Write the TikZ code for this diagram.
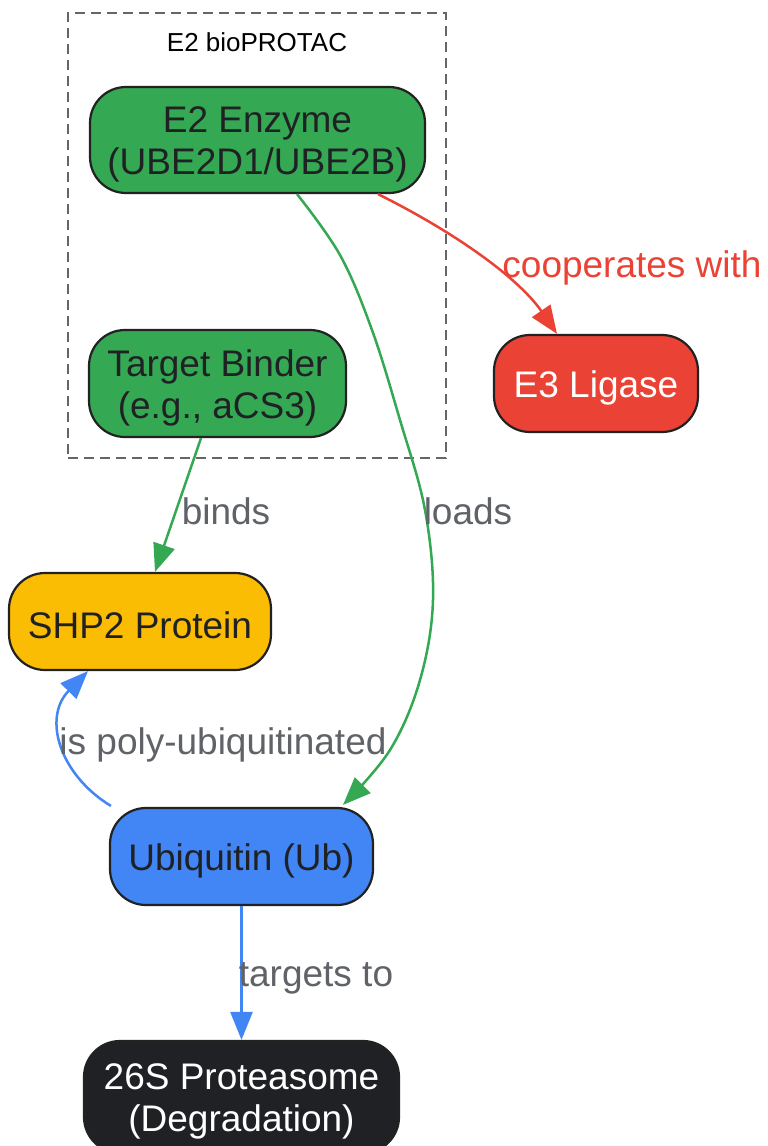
\documentclass[tikz,border=0pt]{standalone}
\usepackage{fontspec}
\setmainfont{Liberation Sans}
\usetikzlibrary{arrows.meta,calc}
\definecolor{ggreen}{HTML}{34A853}
\definecolor{gred}{HTML}{EA4335}
\definecolor{gyellow}{HTML}{FBBC04}
\definecolor{gblue}{HTML}{4285F4}
\definecolor{gdark}{HTML}{202124}
\definecolor{gborder}{HTML}{222222}
\definecolor{glabel}{HTML}{5F6368}
\definecolor{gcluster}{HTML}{666666}
\begin{document}
\begin{tikzpicture}[x=1pt,y=-1pt,
  box/.style={draw=gborder, line width=2.2pt, rounded corners=36pt, inner sep=0pt},
  boxtext/.style={align=center, inner sep=0pt, font=\fontsize{37}{42}\selectfont, yshift=-4pt},
  edge/.style={line width=2.5pt, -{Triangle[length=28pt,width=22pt]}},
  elabel/.style={text=glabel, font=\fontsize{37}{42}\selectfont, inner sep=0pt, yshift=-3pt},
  clusterbox/.style={draw=gcluster, line width=2.5pt, dash pattern=on 10pt off 6pt, inner sep=0pt}
]
\useasboundingbox (0,0) rectangle (768,1146);
\fill[white] (0,0) rectangle (768,1146);

% cluster
\node[clusterbox, minimum width=378pt, minimum height=445pt] (cl) at (257,235.5) {};
\node[font=\fontsize{26}{30}\selectfont, text=black, inner sep=0pt] (cllabel) at (257,42) {E2 bioPROTAC};

% nodes
\node[box, fill=ggreen, minimum width=335pt, minimum height=106pt,
  label={[boxtext, text=gdark]center:{E2 Enzyme\\(UBE2D1/UBE2B)}}] (e2) at (257.5,140) {};
\node[box, fill=ggreen, minimum width=257pt, minimum height=107pt,
  label={[boxtext, text=gdark]center:{Target Binder\\(e.g., aCS3)}}] (tb) at (217.5,383.5) {};
\node[box, fill=gred, minimum width=204pt, minimum height=97pt,
  label={[boxtext, text=white]center:{E3 Ligase}}] (e3) at (596,383.5) {};
\node[box, fill=gyellow, minimum width=262pt, minimum height=97pt,
  label={[boxtext, text=gdark]center:{SHP2 Protein}}] (shp) at (140,621.5) {};
\node[box, fill=gblue, minimum width=263pt, minimum height=97pt,
  label={[boxtext, text=gdark]center:{Ubiquitin (Ub)}}] (ub) at (241.5,856.5) {};
\node[box, fill=gdark, minimum width=315pt, minimum height=112pt,
  label={[boxtext, text=white]center:{26S Proteasome\\(Degradation)}}] (pr) at (241.5,1097) {};

% anchor points
\coordinate (e2r) at ($(e2.south)+(120.5,0)$);
\coordinate (e3t) at ($(e3.north)+(-39,0)$);
\coordinate (e2l) at ($(e2.south)+(39.5,0)$);
\coordinate (ubt) at ($(ub.north)+(101.5,-2)$);
\coordinate (tbs) at ($(tb.south)+(-16.5,0)$);
\coordinate (shpn) at ($(shp.north)+(15,0)$);
\coordinate (ubl) at ($(ub.north west)+(2,-1)$);
\coordinate (shps) at ($(shp.south)+(-52,0)$);

% edges
\draw[edge, gred] (e2r) .. controls (460,235) and (520,280) .. (e3t);
\draw[edge, ggreen] plot[smooth, tension=0.6] coordinates {(e2l) (340,255) (372,330) (400,420) (425,510) (433,600) (420,680) (390,750) (ubt)};
\draw[edge, ggreen] (tbs) -- (shpn);
\draw[edge, gblue] (ubl) .. controls (60,775) and (42,718) .. (shps);
\draw[edge, gblue] (ub.south) -- (pr.north);

% edge labels
\node[elabel, text=gred] (lcoop) at (632,265) {cooperates with};
\node[elabel] (lloads) at (468,508) {loads};
\node[elabel] (lbinds) at (226,508) {binds};
\node[elabel] (lpoly) at (223,742) {is poly-ubiquitinated};
\node[elabel] (ltarg) at (316,975) {targets to};
\end{tikzpicture}
\end{document}
